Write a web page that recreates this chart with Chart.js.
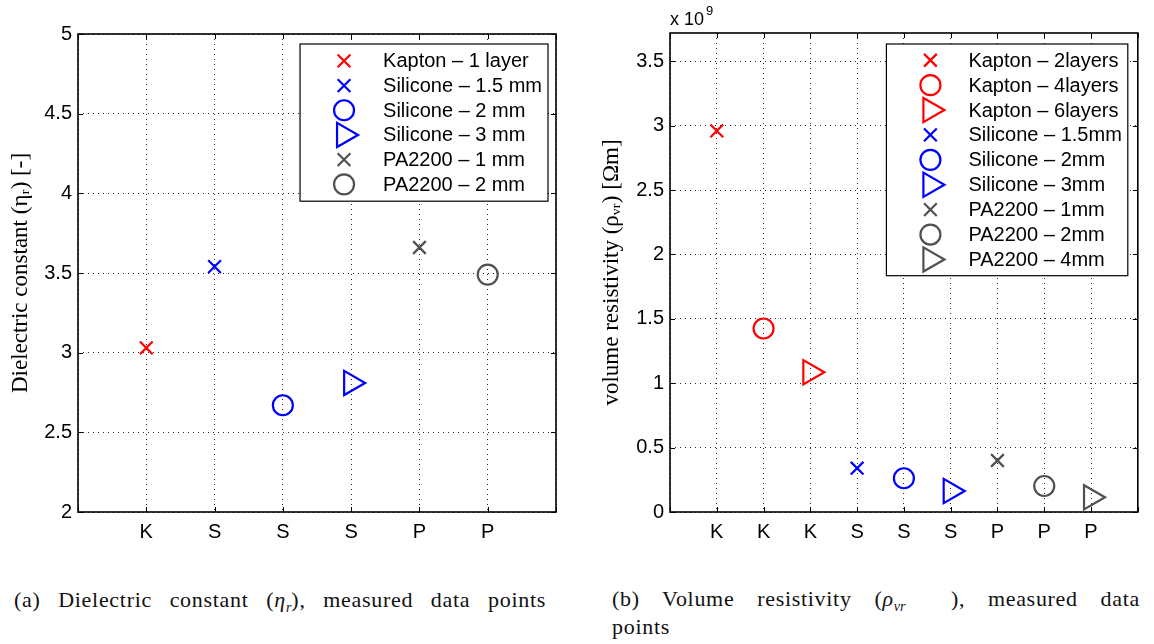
<!DOCTYPE html>
<html>
<head>
<meta charset="utf-8">
<script src="https://cdn.jsdelivr.net/npm/chart.js@4.4.1/dist/chart.umd.min.js"></script>
<style>
    body { margin: 0; background: #fff; width: 1154px; height: 644px; overflow: hidden; position: relative; }
    .wrap { position: absolute; top: 0; height: 560px; }
    #wrap-a { left: 0; width: 575px; }
    #wrap-b { left: 580px; width: 574px; }
    .cap { position: absolute; font-family: "Liberation Serif", serif; font-size: 22px; line-height: 26px; color: #111;
           letter-spacing: 0.7px; text-align: justify; text-align-last: justify; white-space: nowrap; }
    .cap sub { font-size: 14px; letter-spacing: 0; }
    #cap-a { left: 14px; top: 587px; width: 532px; }
    #cap-b1 { left: 612px; top: 586px; width: 528px; }
    #cap-b2 { left: 612px; top: 614px; text-align: left; text-align-last: left; }
</style>
</head>
<body>
<div class="wrap" id="wrap-a"><canvas id="chart-a"></canvas></div>
<div class="wrap" id="wrap-b"><canvas id="chart-b"></canvas></div>
<div class="cap" id="cap-a">(a) Dielectric constant (<i>η</i><sub><i>r</i></sub>), measured data points</div>
<div class="cap" id="cap-b1">(b) Volume resistivity (<i>ρ</i><sub><i>vr</i></sub>&nbsp;&nbsp;), measured data</div>
<div class="cap" id="cap-b2">points</div>
<script>
// (a) dielectric constant
const catsA = ['K', 'S', 'S', 'S', 'P', 'P'];
const labelsA = ['Kapton – 1 layer', 'Silicone – 1.5 mm', 'Silicone – 2 mm', 'Silicone – 3 mm', 'PA2200 – 1 mm', 'PA2200 – 2 mm'];
const valuesA = [3.03, 3.54, 2.67, 2.81, 3.66, 3.49];
const ticksA = [2, 2.5, 3, 3.5, 4, 4.5, 5];

// (b) volume resistivity, in units of 10^9 Ohm m
const catsB = ['K', 'K', 'K', 'S', 'S', 'S', 'P', 'P', 'P'];
const labelsB = ['Kapton – 2layers', 'Kapton – 4layers', 'Kapton – 6layers', 'Silicone – 1.5mm', 'Silicone – 2mm',
    'Silicone – 3mm', 'PA2200 – 1mm', 'PA2200 – 2mm', 'PA2200 – 4mm'];
const valuesB = [2.96, 1.425, 1.085, 0.34, 0.262, 0.163, 0.40, 0.202, 0.114];
const ticksB = [0, 0.5, 1, 1.5, 2, 2.5, 3, 3.5];

const RED = '#ff0000', BLUE = '#0000ff', GRAY = '#505050';
const stylesA = [['crossRot', RED], ['crossRot', BLUE], ['circle', BLUE], ['triangle', BLUE], ['crossRot', GRAY], ['circle', GRAY]];
const stylesB = [['crossRot', RED], ['circle', RED], ['triangle', RED], ['crossRot', BLUE], ['circle', BLUE],
    ['triangle', BLUE], ['crossRot', GRAY], ['circle', GRAY], ['triangle', GRAY]];

const tickFont = { family: '"Liberation Sans", Arial, sans-serif', size: 20 };
const titleFont = { family: '"Liberation Serif", serif', size: 23 };
const gridColor = 'rgba(0,0,0,0.85)';

function makeDatasets(labels, values, styles) {
    return values.map((v, i) => {
        const [shape, color] = styles[i];
        return {
            label: labels[i],
            data: [{ x: i + 1, y: v }],
            pointStyle: shape,
            rotation: shape === 'triangle' ? 90 : 0,
            pointRadius: shape === 'triangle' ? 14 : (shape === 'circle' ? 10 : 9),
            pointBorderWidth: 2.2,
            borderColor: color,
            backgroundColor: 'rgba(0,0,0,0)'
        };
    });
}

// frame + inward ticks like matlab
const boxFrame = {
    id: 'boxFrame',
    afterDraw(chart) {
        const { ctx, chartArea: a, scales } = chart;
        ctx.save();
        ctx.strokeStyle = '#000';
        ctx.lineWidth = 1;
        scales.y.ticks.forEach(t => {
            const py = Math.round(scales.y.getPixelForValue(t.value)) + 0.5;
            ctx.beginPath();
            ctx.moveTo(a.left, py); ctx.lineTo(a.left + 5, py);
            ctx.moveTo(a.right, py); ctx.lineTo(a.right - 5, py);
            ctx.stroke();
        });
        scales.x.ticks.forEach(t => {
            const px = Math.round(scales.x.getPixelForValue(t.value)) + 0.5;
            ctx.beginPath();
            ctx.moveTo(px, a.top); ctx.lineTo(px, a.top + 5);
            ctx.moveTo(px, a.bottom); ctx.lineTo(px, a.bottom - 5);
            ctx.stroke();
        });
        ctx.lineWidth = 1.6;
        ctx.strokeRect(a.left, a.top, a.right - a.left, a.bottom - a.top);
        ctx.restore();
    }
};

const boxLegend = {
    id: 'boxLegend',
    afterDraw(chart, args, opts) {
        const { ctx, chartArea: a } = chart;
        const sets = chart.data.datasets;
        ctx.save();
        ctx.font = '20px "Liberation Sans", Arial, sans-serif';
        const textW = Math.max(...sets.map(d => ctx.measureText(d.label).width));
        const w = opts.textX + textW + 6;
        const h = sets.length * opts.rowH + opts.padV * 2;
        const x0 = a.right - opts.right - w;
        const y0 = a.top + opts.top;
        ctx.fillStyle = '#fff';
        ctx.fillRect(x0, y0, w, h);
        ctx.strokeStyle = '#000';
        ctx.lineWidth = 1.2;
        ctx.strokeRect(x0, y0, w, h);
        ctx.textBaseline = 'middle';
        sets.forEach((d, i) => {
            const cy = y0 + opts.padV + opts.rowH * (i + 0.5);
            ctx.fillStyle = 'rgba(0,0,0,0)';
            ctx.strokeStyle = d.borderColor;
            ctx.lineWidth = 2.2;
            Chart.helpers.drawPoint(ctx, {
                pointStyle: d.pointStyle, rotation: d.rotation,
                radius: d.pointRadius, borderWidth: 2.2
            }, x0 + opts.markX, cy);
            ctx.fillStyle = '#000';
            ctx.fillText(d.label, x0 + opts.textX, cy + 1);
        });
        ctx.restore();
    }
};

const exponent = {
    id: 'exponent',
    afterDraw(chart, args, opts) {
        if (!opts.show) return;
        const { ctx, chartArea: a } = chart;
        ctx.save();
        ctx.fillStyle = '#000';
        ctx.textBaseline = 'alphabetic';
        ctx.font = '18px "Liberation Sans", Arial, sans-serif';
        ctx.fillText('x 10', a.left, a.top - 8);
        const w = ctx.measureText('x 10').width;
        ctx.font = '13px "Liberation Sans", Arial, sans-serif';
        ctx.fillText('9', a.left + w + 2, a.top - 18);
        ctx.restore();
    }
};

function makeChart(id, cfg) {
    const n = cfg.cats.length;
    return new Chart(document.getElementById(id), {
        type: 'scatter',
        data: { datasets: makeDatasets(cfg.labels, cfg.values, cfg.styles) },
        plugins: [boxFrame, boxLegend, exponent],
        options: {
            responsive: true,
            maintainAspectRatio: false,
            animation: false,
            layout: { padding: cfg.padding },
            scales: {
                x: {
                    type: 'linear',
                    min: 0,
                    max: n + 1,
                    afterBuildTicks: s => { s.ticks = [...Array(n + 2).keys()].map(v => ({ value: v })); },
                    afterFit: s => { s.height = 48; },
                    border: { display: false, dash: [1, 4] },
                    grid: { color: gridColor, lineWidth: 1, drawTicks: false },
                    ticks: {
                        font: tickFont, color: '#000', padding: 8, autoSkip: false, maxRotation: 0,
                        callback: v => cfg.cats[v - 1] || ''
                    }
                },
                y: {
                    min: cfg.ticks[0],
                    max: cfg.ymax,
                    afterBuildTicks: s => { s.ticks = cfg.ticks.map(v => ({ value: v })); },
                    afterFit: s => { s.width = cfg.yWidth; },
                    border: { display: false, dash: [1, 4] },
                    grid: { color: gridColor, lineWidth: 1, drawTicks: false },
                    ticks: { font: tickFont, color: '#000', padding: 6, callback: v => String(v) },
                    title: { display: true, text: cfg.yTitle, font: titleFont, color: '#000', padding: { top: cfg.titlePad } }
                }
            },
            plugins: {
                legend: { display: false },
                tooltip: { enabled: false },
                boxLegend: cfg.legend,
                exponent: { show: cfg.exponent }
            }
        }
    });
}

makeChart('chart-a', {
    cats: catsA, labels: labelsA, values: valuesA, styles: stylesA, ticks: ticksA, ymax: 5,
    yWidth: 78, titlePad: 7, yTitle: 'Dielectric constant (ηᵣ) [-]',
    padding: { top: 34, right: 19, left: 0, bottom: 0 },
    legend: { right: 8, top: 10, rowH: 24.7, padV: 4.5, markX: 44, textX: 83 },
    exponent: false
});

makeChart('chart-b', {
    cats: catsB, labels: labelsB, values: valuesB, styles: stylesB, ticks: ticksB, ymax: 3.72,
    yWidth: 90, titlePad: 18, yTitle: 'volume resistivity (ρᵥᵣ) [Ωm]',
    padding: { top: 33, right: 6, left: 0, bottom: 0 },
    legend: { right: 10, top: 11, rowH: 24.9, padV: 3.8, markX: 44, textX: 82 },
    exponent: true
});
</script>
</body>
</html>
